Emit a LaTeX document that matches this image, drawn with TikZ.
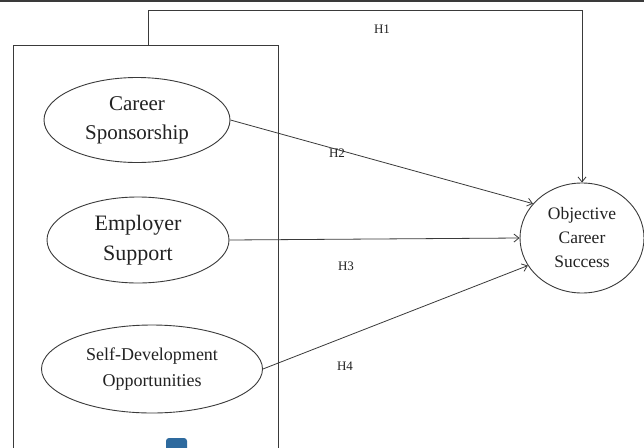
\documentclass[tikz,border=0pt]{standalone}
\usepackage{fontspec}
\setmainfont{Liberation Serif}
\usetikzlibrary{shapes.geometric,arrows.meta}
\definecolor{ln}{HTML}{3A3A3A}
\definecolor{tx}{HTML}{222222}
\definecolor{markblue}{HTML}{2E6A9E}
\tikzset{
  construct/.style={draw=ln, line width=0.9pt, ellipse, inner sep=0pt, text=tx, align=center},
  link/.style={draw=ln, line width=0.8pt, -{Straight Barb[length=5pt,width=8pt,line width=0.8pt]}},
  hlabel/.style={text=tx, font=\fontsize{13}{15}\selectfont}
}
\begin{document}
\begin{tikzpicture}[x=1pt,y=-1pt]
\useasboundingbox (0,0) rectangle (644,447);
\fill[white] (0,0) rectangle (644,447);
\draw[ln, line width=2pt] (0,0.8) -- (644,0.8);
% outer box
\draw[ln, line width=0.9pt] (13,448) -- (13,45) -- (278,45) -- (278,448);
% constructs
\node[construct, minimum width=186pt, minimum height=85pt, font=\fontsize{21}{29}\selectfont] (cs) at (137,120) {Career\\Sponsorship};
\node[construct, minimum width=182pt, minimum height=86pt, font=\fontsize{22}{30}\selectfont] (es) at (138,240) {Employer\\Support};
\node[construct, minimum width=221pt, minimum height=88pt, font=\fontsize{18}{26}\selectfont] (sd) at (152,369) {Self-Development\\Opportunities};
\node[construct, minimum width=124pt, minimum height=110pt, font=\fontsize{17.5}{24}\selectfont] (ocs) at (582,238) {Objective\\Career\\Success};
% H1
\coordinate (h1a) at (148,45);
\coordinate (h1b) at (148,10);
\coordinate (h1c) at (582,10);
\draw[link] (h1a) -- (h1b) -- (h1c) -- (ocs.north);
\node[hlabel] (lh1) at (382,29) {H1};
% H2-H4
\draw[link] (cs.east) -- (ocs.145);
\node[hlabel] (lh2) at (337,153) {H2};
\draw[link] (es.east) -- (ocs.west);
\node[hlabel] (lh3) at (346,266) {H3};
\draw[link] (sd.east) -- (ocs.207);
\node[hlabel] (lh4) at (345,366) {H4};
% small blue mark at bottom
\fill[markblue, rounded corners=3pt] (166,438) rectangle (187,452);
\end{tikzpicture}
\end{document}
